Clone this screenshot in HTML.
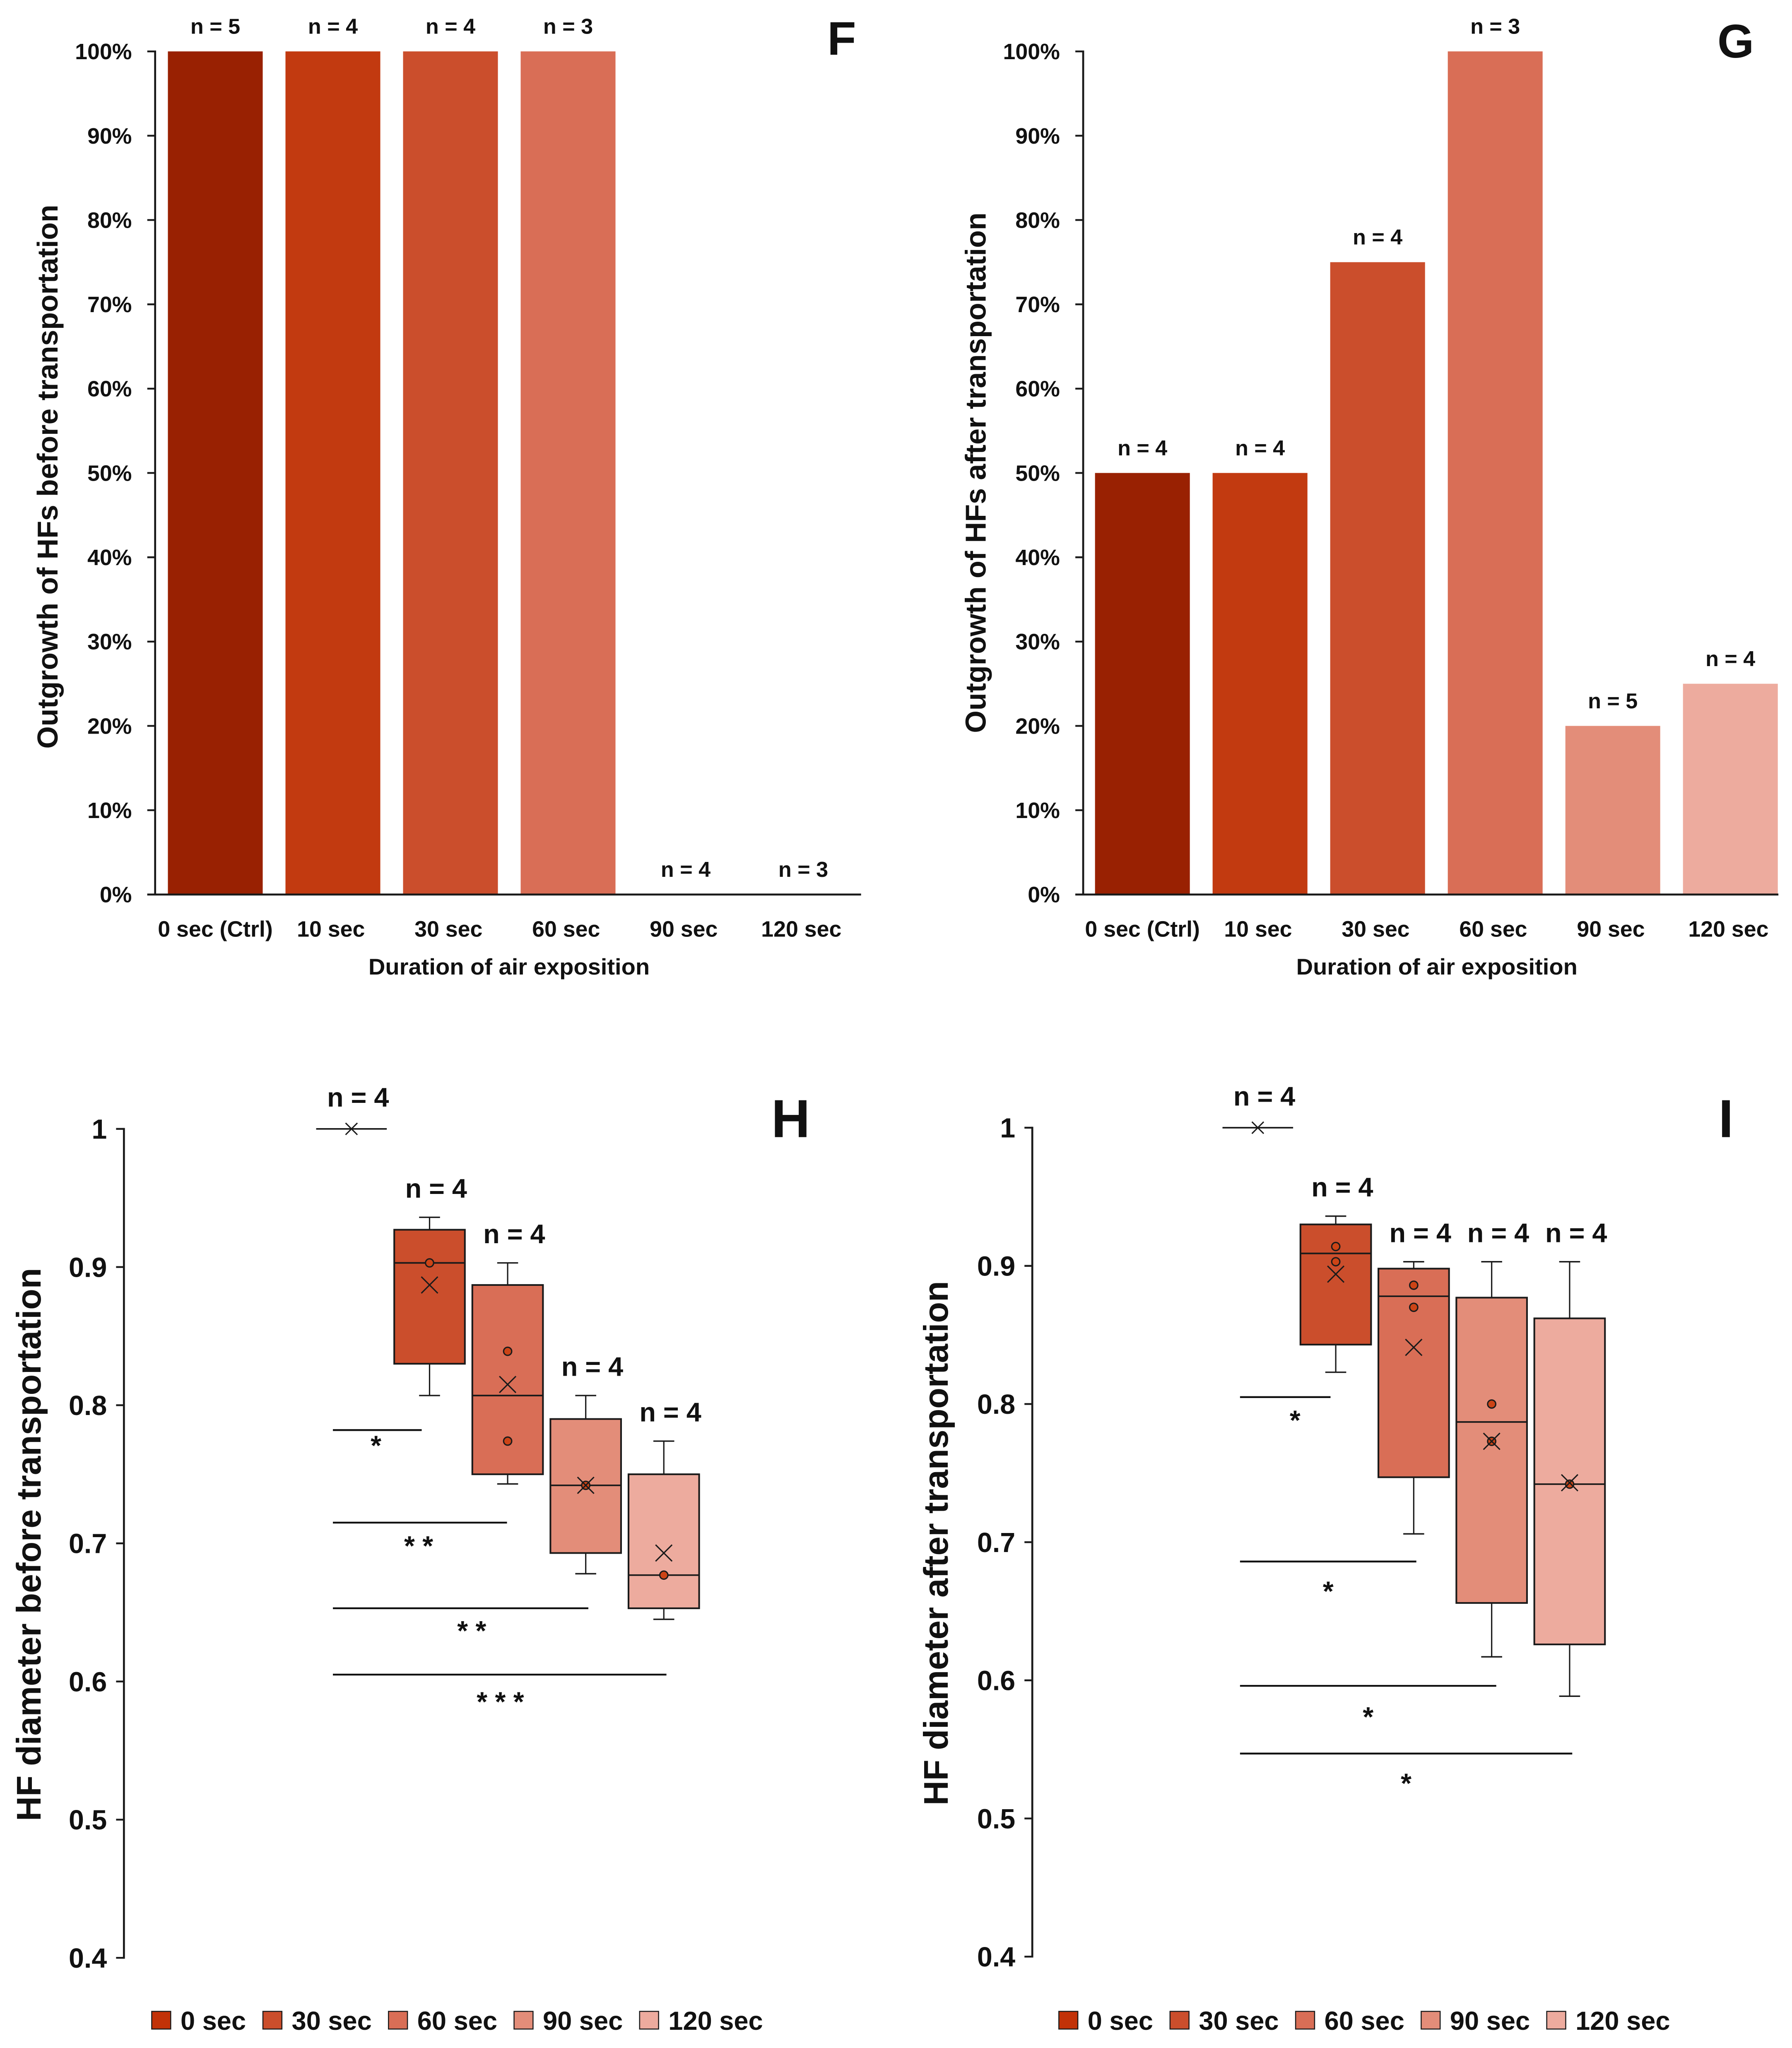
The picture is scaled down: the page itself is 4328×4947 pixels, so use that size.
<!DOCTYPE html>
<html lang="en">
<head>
<meta charset="utf-8">
<title>HF outgrowth and diameter charts</title>
<style>
html,body{margin:0;padding:0;background:#fff;}
svg{display:block;}
text{font-family:"Liberation Sans",sans-serif;font-weight:bold;fill:#111;}
</style>
</head>
<body>
<svg id="figure" xmlns="http://www.w3.org/2000/svg" width="4328" height="4947" viewBox="0 0 1370 1566" preserveAspectRatio="none"></svg>
<script>
// ---------- Bar chart data ----------
const barCategories = ['0 sec (Ctrl)', '10 sec', '30 sec', '60 sec', '90 sec', '120 sec'];
const barTicks = [0, 10, 20, 30, 40, 50, 60, 70, 80, 90, 100];
const fValues = [100, 100, 100, 100, 0, 0];
const fCounts = [5, 4, 4, 3, 4, 3];
const gValues = [50, 50, 75, 100, 20, 25];
const gCounts = [4, 4, 4, 3, 5, 4];

// ---------- Box plot data ----------
const boxGroups = ['0 sec', '30 sec', '60 sec', '90 sec', '120 sec'];
const boxTicks = [0.4, 0.5, 0.6, 0.7, 0.8, 0.9, 1];

const hQ1 = [1, 0.83, 0.75, 0.693, 0.653];
const hQ3 = [1, 0.927, 0.887, 0.79, 0.75];
const hMedian = [1, 0.903, 0.807, 0.742, 0.677];
const hLow = [1, 0.807, 0.743, 0.678, 0.645];
const hHigh = [1, 0.936, 0.903, 0.807, 0.774];
const hMean = [1, 0.887, 0.815, 0.742, 0.693];
const hPoints = [[], [0.903], [0.839, 0.774], [0.742], [0.677]];
const hCounts = [4, 4, 4, 4, 4];
const hSigLevels = [0.782, 0.715, 0.653, 0.605];
const hSigStars = ['*', '* *', '* *', '* * *'];
const hSigTargets = [1, 2, 3, 4];

const iQ1 = [1, 0.843, 0.747, 0.656, 0.626];
const iQ3 = [1, 0.93, 0.898, 0.877, 0.862];
const iMedian = [1, 0.909, 0.878, 0.787, 0.742];
const iLow = [1, 0.823, 0.706, 0.617, 0.5885];
const iHigh = [1, 0.936, 0.903, 0.903, 0.903];
const iMean = [1, 0.894, 0.841, 0.773, 0.743];
const iPoints = [[], [0.914, 0.903], [0.886, 0.87], [0.8, 0.773], [0.742]];
const iCounts = [4, 4, 4, 4, 4];
const iSigLevels = [0.805, 0.686, 0.596, 0.547];
const iSigStars = ['*', '*', '*', '*'];
const iSigTargets = [1, 2, 3, 4];

// ---------- Styling ----------
const barColors = ['#992102', '#c23a10', '#cb4e2c', '#d96e56', '#e38d79', '#edab9e'];
const boxColors = ['#c23208', '#cb4e2c', '#d96e56', '#e38d79', '#edab9e'];
const DARK = '#1a1a1a';

const svg = document.getElementById('figure');
const NS = 'http://www.w3.org/2000/svg';

function mk(parent, tag, attrs, name) {
  const el = document.createElementNS(NS, tag);
  for (const k in attrs) el.setAttribute(k, attrs[k]);
  
  
  parent.appendChild(el);
  return el;
}
function line(p, x1, y1, x2, y2, w, name, color) {
  return mk(p, 'line', { x1, y1, x2, y2, stroke: color || DARK, 'stroke-width': w }, name);
}
function label(p, x, y, str, size, anchor, name, extra) {
  const el = mk(p, 'text', Object.assign({ x, y, 'font-size': size, 'text-anchor': anchor }, extra || {}), name);
  el.textContent = str;
  return el;
}
function verticalTitle(p, x, yCenter, length, str, size, name) {
  const el = mk(p, 'text', {
    transform: 'translate(' + x + ',' + yCenter + ') rotate(-90)',
    'font-size': size, 'text-anchor': 'middle',
    textLength: length, lengthAdjust: 'spacingAndGlyphs'
  }, name);
  el.textContent = str;
  return el;
}

function drawBarChart(cfg) {
  const g = mk(svg, 'g', {}, cfg.id + '-bar-chart');
  const yOf = v => cfg.y0 + (cfg.y100 - cfg.y0) * v / 100;
  const cx = i => cfg.firstCenter + cfg.step * i;
  const halfBar = 36.25;

  cfg.values.forEach((v, i) => {
    if (v > 0) {
      mk(g, 'rect', { x: cx(i) - halfBar, y: yOf(v), width: halfBar * 2, height: cfg.y0 - yOf(v), fill: barColors[i] }, 'bar-' + cfg.id + '-' + i);
    }
    label(g, cx(i), yOf(v) - 13.5, 'n = ' + cfg.counts[i], 16.5, 'middle', 'sample-size-label-' + i);
    label(g, cx(i) - (i === 0 ? 0 : 1.5), 716.2, barCategories[i], 17, 'middle', 'x-tick-label-' + i);
  });

  line(g, cfg.axisX, cfg.y100 - 0.7, cfg.axisX, cfg.y0 + 0.7, 1.5, 'y-axis');
  line(g, cfg.axisX - 6, cfg.y0, cfg.xEnd, cfg.y0, 1.5, 'x-axis');
  barTicks.forEach(t => {
    line(g, cfg.axisX - 6, yOf(t), cfg.axisX, yOf(t), 1.4, 'y-tick-' + t);
    label(g, cfg.axisX - 17.8, yOf(t) + 6, t + '%', 17, 'end', 'y-tick-label-' + t);
  });

  label(g, cfg.titleCenter, 745.2, 'Duration of air exposition', 17.2, 'middle', 'x-axis-title', { textLength: 215, lengthAdjust: 'spacingAndGlyphs' });
  verticalTitle(g, cfg.yTitleX, cfg.yTitleCenter, cfg.yTitleLength, cfg.yTitle, 22, 'y-axis-title');
  label(g, cfg.letterX, cfg.letterY, cfg.id.toUpperCase(), 36, 'middle', 'panel-letter');
}

function drawBoxChart(cfg) {
  const g = mk(svg, 'g', {}, cfg.id + '-box-chart');
  const yOf = v => cfg.y1 + (1 - v) * cfg.unit;
  const cx = i => cfg.firstCenter + cfg.step * i;
  const halfBox = 27;

  boxGroups.forEach((name, i) => {
    const box = mk(g, 'g', {}, 'box-' + name.replace(' ', '-'));
    const c = cx(i);
    if (cfg.q3[i] - cfg.q1[i] > 0) {
      line(box, c, yOf(cfg.high[i]), c, yOf(cfg.q3[i]), 1, 'whisker-upper');
      line(box, c, yOf(cfg.q1[i]), c, yOf(cfg.low[i]), 1, 'whisker-lower');
      line(box, c - 8, yOf(cfg.high[i]), c + 8, yOf(cfg.high[i]), 1.1, 'whisker-cap-upper');
      line(box, c - 8, yOf(cfg.low[i]), c + 8, yOf(cfg.low[i]), 1.1, 'whisker-cap-lower');
      mk(box, 'rect', {
        x: c - halfBox, y: yOf(cfg.q3[i]), width: halfBox * 2, height: yOf(cfg.q1[i]) - yOf(cfg.q3[i]),
        fill: boxColors[i], stroke: DARK, 'stroke-width': 1.3
      }, 'box-body');
    }
    line(box, c - halfBox, yOf(cfg.median[i]), c + halfBox, yOf(cfg.median[i]), 1.2, 'median-line');
    cfg.points[i].forEach(p => {
      mk(box, 'circle', { cx: c, cy: yOf(p), r: 3.1, fill: '#cc4416', stroke: DARK, 'stroke-width': 1 }, 'data-point');
    });
    const m = yOf(cfg.mean[i]);
    const s = i === 0 ? 4.5 : 6.3;
    mk(box, 'path', {
      d: 'M' + (c - s) + ' ' + (m - s) + 'L' + (c + s) + ' ' + (m + s) + 'M' + (c - s) + ' ' + (m + s) + 'L' + (c + s) + ' ' + (m - s),
      stroke: DARK, 'stroke-width': 1, fill: 'none'
    }, 'mean-marker');
    label(g, c + 5, yOf(cfg.high[i]) - (i === 0 ? 17 : 15), 'n = ' + cfg.counts[i], 20.5, 'middle', 'sample-size-label-' + i);
  });

  cfg.sigLevels.forEach((lvl, k) => {
    const end = cx(cfg.sigTargets[k]) + cfg.sigEndNudge[k];
    const y = yOf(lvl);
    line(g, cfg.sigStart, y, end, y, 1.4, 'significance-bar-' + k, '#111');
    label(g, (cfg.sigStart + end) / 2 + cfg.starNudge[k], y + cfg.starDrop[k], cfg.sigStars[k], 21, 'middle', 'significance-stars-' + k);
  });

  line(g, cfg.axisX, yOf(1) - 0.7, cfg.axisX, yOf(0.4) + 0.7, 1.5, 'y-axis');
  boxTicks.forEach(t => {
    line(g, cfg.axisX - 6, yOf(t), cfg.axisX, yOf(t), 1.4, 'y-tick-' + t);
    label(g, cfg.axisX - 13, yOf(t) + 7.5, String(t), 21, 'end', 'y-tick-label-' + t);
  });

  verticalTitle(g, cfg.yTitleX, cfg.yTitleCenter, cfg.yTitleLength, cfg.yTitle, 26, 'y-axis-title');
  label(g, cfg.letterX, 869.5, cfg.id.toUpperCase(), 41, 'middle', 'panel-letter');

  const legend = mk(g, 'g', {}, 'legend');
  const swatchOffsets = [0, 85, 181, 277, 373];
  boxGroups.forEach((name, i) => {
    const x = cfg.legendX + swatchOffsets[i];
    const entry = mk(legend, 'g', {}, 'legend-entry-' + name.replace(' ', '-'));
    mk(entry, 'rect', { x, y: 1538, width: 14.5, height: 13.5, fill: boxColors[i], stroke: DARK, 'stroke-width': 0.8 }, 'legend-swatch');
    label(entry, x + 22, 1552, name, 20, 'start', 'legend-label');
  });
}

drawBarChart({
  id: 'f', values: fValues, counts: fCounts,
  axisX: 118.6, y0: 684, y100: 39.3, xEnd: 658.3, firstCenter: 164.6, step: 89.9,
  titleCenter: 389.2, yTitle: 'Outgrowth of HFs before transportation',
  yTitleX: 44, yTitleCenter: 364.5, yTitleLength: 416, letterX: 643.5, letterY: 42
});
drawBarChart({
  id: 'g', values: gValues, counts: gCounts,
  axisX: 828.1, y0: 684, y100: 39.3, xEnd: 1359.6, firstCenter: 873.4, step: 89.9,
  titleCenter: 1098.5, yTitle: 'Outgrowth of HFs after transportation',
  yTitleX: 753.5, yTitleCenter: 361.5, yTitleLength: 398, letterX: 1327, letterY: 44
});
drawBoxChart({
  id: 'h', q1: hQ1, q3: hQ3, median: hMedian, low: hLow, high: hHigh, mean: hMean,
  points: hPoints, counts: hCounts, sigLevels: hSigLevels, sigStars: hSigStars, sigTargets: hSigTargets,
  axisX: 94.75, y1: 863.2, unit: 1056.4, firstCenter: 268.7, step: 59.7, sigStart: 254.5,
  sigEndNudge: [-6, -0.5, 2, 2], starNudge: [-1, -1, 8.5, 0.5], starDrop: [19, 25, 24.5, 28],
  yTitle: 'HF diameter before transportation', yTitleX: 31, yTitleCenter: 1181, yTitleLength: 423,
  letterX: 604.5, legendX: 116
});
drawBoxChart({
  id: 'i', q1: iQ1, q3: iQ3, median: iMedian, low: iLow, high: iHigh, mean: iMean,
  points: iPoints, counts: iCounts, sigLevels: iSigLevels, sigStars: iSigStars, sigTargets: iSigTargets,
  axisX: 789.2, y1: 862.3, unit: 1056.4, firstCenter: 961.6, step: 59.6, sigStart: 948,
  sigEndNudge: [-4, 2, 3.5, 2], starNudge: [7.5, 0, 0, 0], starDrop: [25, 30, 31, 30],
  yTitle: 'HF diameter after transportation', yTitleX: 724.5, yTitleCenter: 1180, yTitleLength: 401,
  letterX: 1319.5, legendX: 809.5
});
</script>
</body>
</html>
